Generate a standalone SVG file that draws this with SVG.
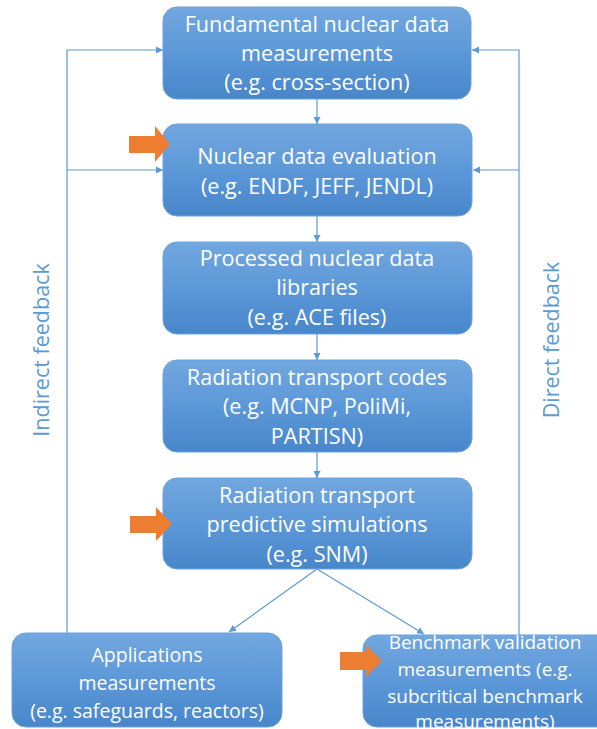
<svg xmlns="http://www.w3.org/2000/svg" width="597" height="729" viewBox="0 0 597 729">
<defs>
<linearGradient id="g" x1="0" y1="0" x2="0" y2="1">
<stop offset="0" stop-color="#72A7DF"/>
<stop offset="0.5" stop-color="#5C98D8"/>
<stop offset="1" stop-color="#4886CB"/>
</linearGradient>
<marker id="ah" markerWidth="8" markerHeight="8" refX="7" refY="4" orient="auto" markerUnits="userSpaceOnUse">
<path d="M0,0.5 L7,4 L0,7.5 Z" fill="#5B9BD5"/>
</marker>
</defs>
<style>
.box{fill:url(#g);stroke:#6BA3DD;stroke-width:1}
.t{font-family:"Open Sans","Liberation Sans",sans-serif;font-size:21.6px;fill:#FFFFFF;text-anchor:middle}
.s{font-size:19.5px}
.r{font-size:19px}
.c{fill:none;stroke:#5B9BD5;stroke-width:1.2}
.lbl{font-family:"Open Sans","Liberation Sans",sans-serif;font-size:21.5px;fill:#5B9BD5;text-anchor:middle}
.oa{fill:#ED7D31}
</style>
<g id="connectors">
<line class="c" x1="317" y1="99" x2="317" y2="124" marker-end="url(#ah)"/>
<line class="c" x1="317" y1="216" x2="317" y2="242" marker-end="url(#ah)"/>
<line class="c" x1="317" y1="334" x2="317" y2="360" marker-end="url(#ah)"/>
<line class="c" x1="317" y1="452" x2="317" y2="478" marker-end="url(#ah)"/>
<line class="c" x1="317" y1="569" x2="229" y2="632" marker-end="url(#ah)"/>
<line class="c" x1="317" y1="569" x2="424" y2="634" marker-end="url(#ah)"/>
<polyline class="c" points="67,633 67,50 163,50" marker-end="url(#ah)"/>
<polyline class="c" points="67,170 163,170" marker-end="url(#ah)"/>
<polyline class="c" points="519,635 519,50 472,50" marker-end="url(#ah)"/>
<polyline class="c" points="519,170 473,170" marker-end="url(#ah)"/>
</g>
<g id="label-indirect"><text class="lbl" transform="translate(49,350) rotate(-90)">Indirect feedback</text></g>
<g id="label-direct"><text class="lbl" transform="translate(559,340) rotate(-90)">Direct feedback</text></g>
<g id="n1">
<rect class="box" x="163" y="7" width="308" height="92" rx="14"/>
<text class="t" x="317" y="32">Fundamental nuclear data</text>
<text class="t" x="317" y="61">measurements</text>
<text class="t" x="317" y="90">(e.g. cross-section)</text>
</g>
<g id="n2">
<rect class="box" x="163" y="124" width="309" height="92" rx="14"/>
<text class="t" x="317" y="164">Nuclear data evaluation</text>
<text class="t" x="317" y="194">(e.g. ENDF, JEFF, JENDL)</text>
</g>
<g id="n3">
<rect class="box" x="163" y="242" width="309" height="92" rx="14"/>
<text class="t" x="317" y="266">Processed nuclear data</text>
<text class="t" x="317" y="295">libraries</text>
<text class="t" x="317" y="325">(e.g. ACE files)</text>
</g>
<g id="n4">
<rect class="box" x="163" y="360" width="309" height="92" rx="14"/>
<text class="t" x="317" y="385">Radiation transport codes</text>
<text class="t" x="317" y="414">(e.g. MCNP, PoliMi,</text>
<text class="t" x="317" y="444">PARTISN)</text>
</g>
<g id="n5">
<rect class="box" x="163" y="478" width="309" height="91" rx="14"/>
<text class="t" x="317" y="503">Radiation transport</text>
<text class="t" x="317" y="532">predictive simulations</text>
<text class="t" x="317" y="562">(e.g. SNM)</text>
</g>
<g id="n6">
<rect class="box" x="12" y="633" width="270" height="94" rx="14"/>
<text class="t s" x="147" y="662">Applications</text>
<text class="t s" x="147" y="690">measurements</text>
<text class="t s" x="147" y="718">(e.g. safeguards, reactors)</text>
</g>
<g id="n7">
<rect class="box" x="363" y="635" width="250" height="92" rx="14"/>
<text class="t r" x="485" y="649">Benchmark validation</text>
<text class="t r" x="485" y="676">measurements (e.g.</text>
<text class="t r" x="485" y="703">subcritical benchmark</text>
<text class="t r" x="485" y="728">measurements)</text>
</g>
<g id="orange-arrows">
<polygon class="oa" points="129,136 155,136 155,126 170,144 155,162 155,153 129,153"/>
<polygon class="oa" points="130,516 156,516 156,507 172,524 156,541 156,533 130,533"/>
<polygon class="oa" points="340,652 366,652 366,645 382,661 366,677 366,670 340,670"/>
</g>
</svg>
